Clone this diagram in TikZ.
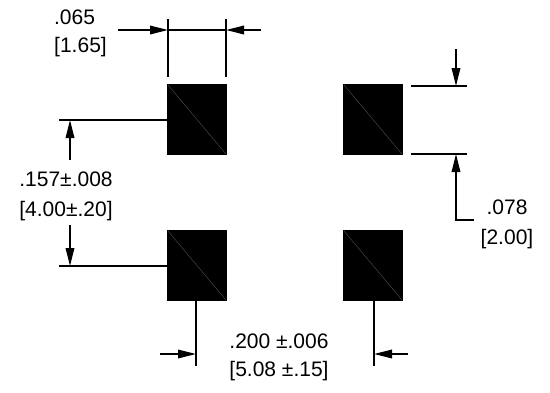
\documentclass[tikz,border=0pt]{standalone}
\usepackage{fontspec}
\setmainfont{Liberation Sans}
\usetikzlibrary{arrows.meta}
\tikzset{
  x=1pt,y=-1pt,
  pad/.style={fill=black,draw=none,minimum width=60pt,minimum height=71pt,inner sep=0pt,outer sep=0pt},
  padslash/.style={draw=black!65,line width=0.35pt},
  dimline/.style={draw=black,line width=1.8pt},
  headed/.style={dimline,-{Triangle[length=18pt,width=8.5pt,sep=0pt]}},
  lbl/.style={anchor=base,inner sep=0pt,outer sep=0pt,font=\fontsize{21}{24}\selectfont},
}
\begin{document}
\begin{tikzpicture}
\useasboundingbox (0,0) rectangle (550,392);
\fill[white] (0,0) rectangle (550,392);
% pads
\node[pad] (p1) at (197,119.5) {};
\node[pad] (p2) at (373,119.5) {};
\node[pad] (p3) at (197,265.5) {};
\node[pad] (p4) at (373,265.5) {};
\foreach \p in {p1,p2,p3,p4}{
  \draw[padslash] ([shift={(1,1)}]\p.north west) -- ([shift={(-1,-1)}]\p.south east);
}
% top dimension
\coordinate (a1) at (168,19); \coordinate (a2) at (168,77);
\coordinate (a3) at (226,19); \coordinate (a4) at (226,77);
\coordinate (at) at (168,30); \coordinate (bt) at (226,30);
\coordinate (as) at (117.5,30); \coordinate (bs) at (261,30);
\draw[dimline] (a1) -- (a2);
\draw[dimline] (a3) -- (a4);
\draw[dimline] (at) -- (bt);
\draw[headed] (as) -- (at);
\draw[headed] (bs) -- (bt);
% left dimension
\coordinate (l1) at (59,120); \coordinate (l2) at (59,266);
\coordinate (ltip) at (70,120); \coordinate (ltail) at (70,160);
\coordinate (mtip) at (70,266); \coordinate (mtail) at (70,225);
\draw[dimline] (l1) -- (p1.west |- l1);
\draw[dimline] (l2) -- (p3.west |- l2);
\draw[headed] (ltail) -- (ltip);
\draw[headed] (mtail) -- (mtip);
% right dimension
\coordinate (r1) at (411,86); \coordinate (r2) at (467,86);
\coordinate (r3) at (411,154); \coordinate (r4) at (467,154);
\coordinate (rt1) at (456,86); \coordinate (rs1) at (456,49);
\coordinate (rt2) at (456,154); \coordinate (rc) at (456,220); \coordinate (re) at (474,220);
\draw[dimline] (r1) -- (r2);
\draw[dimline] (r3) -- (r4);
\draw[headed] (rs1) -- (rt1);
\draw[dimline] (re) -- (rc) -- (456,172);
\draw[headed] (456,220.9) -- (rt2);
% bottom dimension
\coordinate (b1) at (196,366); \coordinate (b2) at (374,366);
\coordinate (bt1) at (196,354); \coordinate (bt2) at (374,354);
\coordinate (bs1) at (159.5,354); \coordinate (bs2) at (408,354);
\draw[dimline] (p3.south -| b1) -- (b1);
\draw[dimline] (p4.south -| b2) -- (b2);
\draw[headed] (bs1) -- (bt1);
\draw[headed] (bs2) -- (bt2);
% labels
\node[lbl] (t1) at (74.5,24) {.065};
\node[lbl] (t2) at (80.5,52) {[1.65]};
\node[lbl] (t3) at (66,186) {.157±.008};
\node[lbl] (t4) at (66,216) {[4.00±.20]};
\node[lbl] (t5) at (279,348) {.200 ±.006};
\node[lbl] (t6) at (279,376) {[5.08 ±.15]};
\node[lbl] (t7) at (507,214) {.078};
\node[lbl] (t8) at (507,244) {[2.00]};
\end{tikzpicture}
\end{document}
